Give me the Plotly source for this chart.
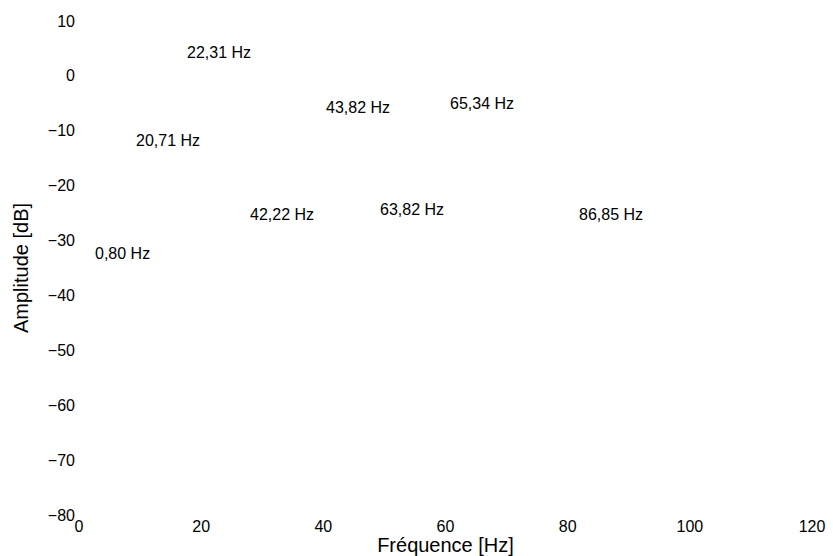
import plotly.graph_objects as go

# Peak labels and where they are written (data coordinates)
peak_labels = ["0,80 Hz", "20,71 Hz", "22,31 Hz", "42,22 Hz",
               "43,82 Hz", "63,82 Hz", "65,34 Hz", "86,85 Hz"]
label_x = [2.3, 9.0, 17.35, 27.7, 40.1, 48.9, 60.4, 81.5]
label_y = [-32.3, -11.7, 4.35, -25.2, -5.7, -24.4, -5.1, -25.3]

x_ticks = [0, 20, 40, 60, 80, 100, 120]
y_ticks = [10, 0, -10, -20, -30, -40, -50, -60, -70, -80]

FONT = "Liberation Sans, Arial, sans-serif"

fig = go.Figure()
# invisible trace to establish the axes
fig.add_trace(go.Scatter(x=[0, 120], y=[-80, 10], mode="markers",
                         marker=dict(opacity=0), hoverinfo="skip",
                         showlegend=False))

for lab, xv, yv in zip(peak_labels, label_x, label_y):
    fig.add_annotation(x=xv, y=yv, text=lab, showarrow=False,
                       xanchor="left", yanchor="middle",
                       font=dict(family=FONT, size=16, color="black"))

fig.update_layout(
    width=833, height=556,
    margin=dict(l=79, r=21, t=21, b=41),
    paper_bgcolor="white", plot_bgcolor="white",
    font=dict(family=FONT, color="black"),
    showlegend=False,
    xaxis=dict(range=[0, 120], tickvals=x_ticks, showgrid=False,
               zeroline=False, showline=False, ticks="", automargin=False,
               tickfont=dict(size=16),
               title=dict(text="Fréquence [Hz]", font=dict(size=20), standoff=0)),
    yaxis=dict(range=[-80, 10], tickvals=y_ticks, showgrid=False,
               zeroline=False, showline=False, ticks="", automargin=False,
               tickfont=dict(size=16), ticklabelstandoff=3,
               title=dict(text="Amplitude [dB]", font=dict(size=20), standoff=13)),
)

fig.write_html("out.html",
               config={"displayModeBar": False},
               post_script="document.body.style.margin='0';"
                           "document.body.style.overflow='hidden';")
